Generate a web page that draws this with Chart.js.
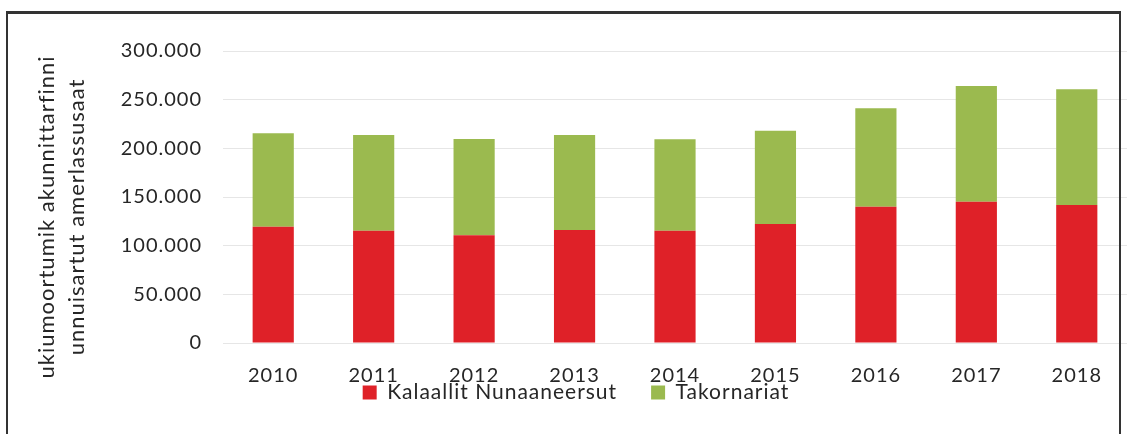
<!DOCTYPE html>
<html>
<head>
<meta charset="utf-8">
<script src="https://cdn.jsdelivr.net/npm/chart.js@4"></script>
<style>
  html, body { margin: 0; padding: 0; background: #fff; }
  #wrap { position: relative; width: 1127px; height: 434px; overflow: hidden; }
  #frame {
    position: absolute; left: 6px; top: 11px; width: 1115px; height: 430px;
    border: 2px solid #333; border-top-width: 3px; box-sizing: border-box;
  }
  canvas { position: absolute; left: 0; top: 0; }
</style>
</head>
<body>
<div id="wrap">
  <canvas id="chart" width="1127" height="434"></canvas>
  <div id="frame"></div>
</div>
<script>
// years on the x axis
const years = ['2010', '2011', '2012', '2013', '2014', '2015', '2016', '2017', '2018'];

// overnight stays
const kalaallit   = [119500, 115400, 110600, 116100, 115400, 122300, 140000, 145200, 141800];
const takornariat = [ 95900,  98300,  99000,  97600,  93900,  95800, 101100, 118800, 118800];

const seriesNames = ['Kalaallit Nunaaneersut', 'Takornariat'];
const yTitle      = ['ukiumoortumik akunnittarfinni', 'unnuisartut amerlassusaat'];
const yMax  = 300000;
const yStep = 50000;

const fmt = v => v === 0 ? '0' : v.toLocaleString('de-DE');
const ink = '#262626';

// the scanned Calibri text runs a bit wider than Lato, so space the letters a little
const spacing = {
  id: 'spacing',
  beforeUpdate(chart) { chart.ctx.letterSpacing = '1px'; },
  beforeDraw(chart)   { chart.ctx.letterSpacing = '1px'; },
};

// the y title sits a little right of the axis box edge and below its middle
function patchTitle(scale) {
  if (scale._patched) return;
  const orig = scale.drawTitle.bind(scale);
  scale.drawTitle = function () {
    const ctx = this.ctx;
    ctx.save();
    ctx.translate(7, 20);
    orig();
    ctx.restore();
  };
  scale._patched = true;
}

// x labels hang below a thin axis box, so the legend can sit close under them
function unclipLabels(scale) {
  scale.height = 5;
  scale._computeLabelArea = () => undefined;
}

new Chart(document.getElementById('chart'), {
  type: 'bar',
  data: {
    labels: years,
    datasets: [
      { label: seriesNames[0], data: kalaallit,   backgroundColor: '#df2128', borderWidth: 0 },
      { label: seriesNames[1], data: takornariat, backgroundColor: '#9bba4f', borderWidth: 0 },
    ],
  },
  plugins: [spacing],
  options: {
    responsive: false,
    animation: false,
    layout: { padding: { left: 25, right: 0, top: 51, bottom: 21 } },
    datasets: { bar: { barPercentage: 0.41, categoryPercentage: 1 } },
    scales: {
      x: {
        stacked: true,
        afterFit: unclipLabels,
        grid: { display: false },
        border: { display: false },
        ticks: { color: ink, padding: 13, font: { family: 'Lato', size: 20 } },
      },
      y: {
        stacked: true,
        min: 0,
        max: yMax,
        afterFit: s => { s.width = 198; patchTitle(s); },
        grid: { color: '#e6e6e6', drawTicks: false },
        border: { display: false },
        ticks: {
          stepSize: yStep,
          color: ink,
          padding: 21,
          font: { family: 'Lato', size: 20 },
          callback: v => fmt(v),
        },
        title: {
          display: true,
          text: yTitle,
          color: ink,
          padding: { top: 0, bottom: 0 },
          font: { family: 'Lato', size: 22, lineHeight: 1.36 },
        },
      },
    },
    plugins: {
      legend: {
        position: 'bottom',
        labels: {
          boxWidth: 14,
          boxHeight: 14,
          padding: 34,
          color: ink,
          font: { family: 'Lato', size: 21 },
        },
      },
      tooltip: { enabled: false },
    },
  },
});
</script>
</body>
</html>
